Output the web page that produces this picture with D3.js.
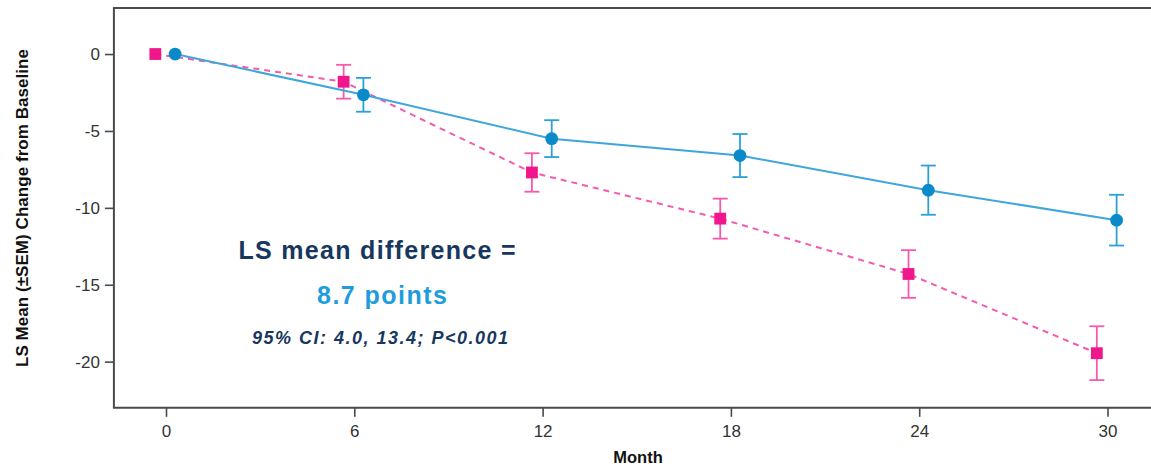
<!DOCTYPE html>
<html>
<head>
<meta charset="utf-8">
<script src="https://cdn.jsdelivr.net/npm/d3@7"></script>
<style>
  html, body { margin: 0; padding: 0; background: #fff; }
  svg { display: block; }
</style>
</head>
<body>
<svg id="chart" width="1151" height="468"></svg>
<script>
// Visit months and least-squares mean change from baseline (±SEM) per group
const months = [0, 6, 12, 18, 24, 30];
const groupAMean = [0, -1.8, -7.7, -10.7, -14.3, -19.45];
const groupASem  = [0, 1.1, 1.25, 1.3, 1.55, 1.75];
const groupBMean = [0, -2.65, -5.5, -6.6, -8.85, -10.8];
const groupBSem  = [0, 1.1, 1.2, 1.4, 1.6, 1.65];

const xTicks = [0, 6, 12, 18, 24, 30];
const yTicks = [0, -5, -10, -15, -20];

const annotationLines = ["LS mean difference =", "8.7 points", "95% CI: 4.0, 13.4; P<0.001"];

const svg = d3.select("#chart");
const W = 1151, H = 468;

const x = d3.scaleLinear().domain([0, 30]).range([166, 1107.5]);
const y = d3.scaleLinear().domain([-23, 3]).range([407.8, 7.9]);

const frameLeft = x(-1.66), frameTop = y(3), frameBottom = y(-23), frameRight = W + 5;

const axisColor = "#4a4a4a";
const font = "'Liberation Sans', Arial, sans-serif";
const plainNumber = d => String(d);   // hyphen-minus, as printed on the axis

// Plot frame: left, top and bottom rules
svg.append("path")
  .attr("d", `M${frameRight},${frameTop}H${frameLeft}V${frameBottom}H${frameRight}`)
  .attr("fill", "none").attr("stroke", axisColor).attr("stroke-width", 2);

// Y axis
const yAxis = svg.append("g").attr("transform", `translate(${frameLeft},0)`)
  .call(d3.axisLeft(y).tickValues(yTicks).tickSize(9).tickPadding(5).tickFormat(plainNumber));
yAxis.select(".domain").remove();
yAxis.selectAll(".tick line").attr("stroke", axisColor).attr("stroke-width", 1.6);
yAxis.selectAll(".tick text").attr("font-family", font).attr("font-size", 17)
  .attr("fill", "#333").attr("dy", "0.35em");

// X axis
const xAxis = svg.append("g").attr("transform", `translate(0,${frameBottom})`)
  .call(d3.axisBottom(x).tickValues(xTicks).tickSize(9).tickPadding(8).tickFormat(plainNumber));
xAxis.select(".domain").remove();
xAxis.selectAll(".tick line").attr("stroke", axisColor).attr("stroke-width", 1.6);
xAxis.selectAll(".tick text").attr("font-family", font).attr("font-size", 17).attr("fill", "#333");

// Axis titles
svg.append("text")
  .attr("transform", `translate(28,208) rotate(-90)`)
  .attr("text-anchor", "middle")
  .attr("font-family", font).attr("font-weight", "bold").attr("font-size", 17)
  .attr("fill", "#111")
  .attr("textLength", 318).attr("lengthAdjust", "spacing")
  .text("LS Mean (±SEM) Change from Baseline");

svg.append("text")
  .attr("x", 638).attr("y", 463)
  .attr("text-anchor", "middle")
  .attr("font-family", font).attr("font-weight", "bold").attr("font-size", 16.5)
  .attr("fill", "#111")
  .text("Month");

// Series definitions
const series = [
  { mean: groupAMean, sem: groupASem, offset: -0.34, line: "#f45aae", bar: "#f45aae", mark: "#f0168c", dash: "6,5", shape: "square" },
  { mean: groupBMean, sem: groupBSem, offset: 0.29, line: "#3fa6dc", bar: "#2aa1d8", mark: "#0b8ac9", dash: null, shape: "circle" }
];

const capHalf = 7.5;

series.forEach(s => {
  const pts = months.map((m, i) => ({ m: m + s.offset, v: s.mean[i], e: s.sem[i] }));
  const g = svg.append("g");

  g.append("path")
    .datum(pts)
    .attr("fill", "none")
    .attr("stroke", s.line)
    .attr("stroke-width", 2)
    .attr("stroke-dasharray", s.dash)
    .attr("d", d3.line().x(d => x(d.m)).y(d => y(d.v)));

  const eb = g.selectAll(".eb").data(pts.filter(d => d.e > 0)).join("g")
    .attr("stroke", s.bar).attr("stroke-width", 1.8).attr("fill", "none");
  eb.append("line")
    .attr("x1", d => x(d.m)).attr("x2", d => x(d.m))
    .attr("y1", d => y(d.v + d.e)).attr("y2", d => y(d.v - d.e));
  eb.append("line")
    .attr("x1", d => x(d.m) - capHalf).attr("x2", d => x(d.m) + capHalf)
    .attr("y1", d => y(d.v + d.e)).attr("y2", d => y(d.v + d.e));
  eb.append("line")
    .attr("x1", d => x(d.m) - capHalf).attr("x2", d => x(d.m) + capHalf)
    .attr("y1", d => y(d.v - d.e)).attr("y2", d => y(d.v - d.e));

  if (s.shape === "circle") {
    g.selectAll("circle").data(pts).join("circle")
      .attr("cx", d => x(d.m)).attr("cy", d => y(d.v)).attr("r", 6.4)
      .attr("fill", s.mark);
  } else {
    const side = 11.8;
    g.selectAll("rect").data(pts).join("rect")
      .attr("x", d => x(d.m) - side / 2).attr("y", d => y(d.v) - side / 2)
      .attr("width", side).attr("height", side)
      .attr("fill", s.mark);
  }
});

// Treatment difference annotation
const ann = svg.append("g").attr("font-family", font).attr("font-weight", "bold").attr("text-anchor", "middle");
ann.append("text").attr("x", 377).attr("y", 259)
  .attr("font-size", 25).attr("fill", "#17375e")
  .attr("textLength", 277).attr("lengthAdjust", "spacing")
  .text(annotationLines[0]);
ann.append("text").attr("x", 382).attr("y", 304)
  .attr("font-size", 25).attr("fill", "#1f9ddb")
  .attr("textLength", 130).attr("lengthAdjust", "spacing")
  .text(annotationLines[1]);
ann.append("text").attr("x", 380).attr("y", 344)
  .attr("font-size", 18).attr("font-style", "italic").attr("fill", "#17375e")
  .attr("textLength", 256).attr("lengthAdjust", "spacing")
  .text(annotationLines[2]);
</script>
</body>
</html>
